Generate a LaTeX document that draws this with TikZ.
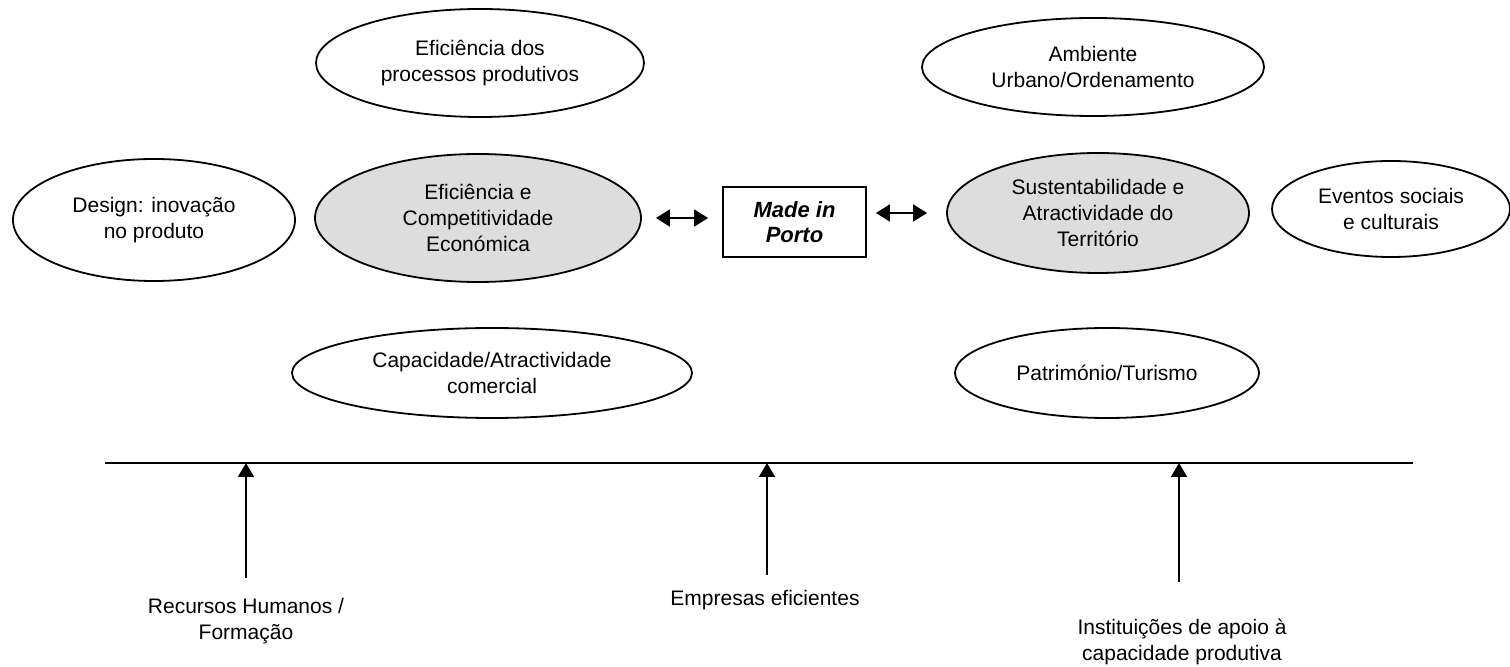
\documentclass[tikz,border=0pt]{standalone}
\usepackage{fontspec}
\setmainfont{Liberation Sans}
\usetikzlibrary{shapes.geometric,arrows.meta,calc}
\definecolor{corefill}{RGB}{221,221,221}
\begin{document}
\begin{tikzpicture}[x=0.5pt,y=-0.5pt,
  every node/.style={font=\fontsize{10.5pt}{13pt}\selectfont, align=center, inner sep=0pt},
  oval/.style={ellipse, draw, line width=0.9pt, fill=white},
  core/.style={oval, fill=corefill},
  brand/.style={draw, line width=0.9pt, minimum width=71.5pt, minimum height=35pt,
    font=\fontsize{11pt}{12.5pt}\selectfont\bfseries\itshape},
  link/.style={line width=0.9pt, {Triangle[length=7pt,width=8.5pt]}-{Triangle[length=7pt,width=8.5pt]}},
  base/.style={line width=0.9pt},
  support/.style={line width=0.9pt, -{Triangle[length=7pt,width=8pt]}}
]
\useasboundingbox (0,0) rectangle (1510,667);

% economic side
\node[oval, minimum width=164pt, minimum height=54pt] (proc) at (480,63) {Eficiência dos\\processos produtivos};
\node[oval, minimum width=141pt, minimum height=61pt] (design) at (154,220) {Design: inovação\\no produto};
\node[core, minimum width=163pt, minimum height=64pt] (ef) at (478,218) {Eficiência e\\Competitividade\\Económica};
\node[oval, minimum width=200pt, minimum height=45pt] (cap) at (492,373) {Capacidade/Atractividade\\comercial};

% territorial side
\node[oval, minimum width=171pt, minimum height=49pt] (amb) at (1093,67) {Ambiente\\Urbano/Ordenamento};
\node[core, minimum width=151pt, minimum height=60pt] (sust) at (1098,213) {Sustentabilidade e\\Atractividade do\\Território};
\node[oval, minimum width=119pt, minimum height=48pt] (evt) at (1391,209) {Eventos sociais\\e culturais};
\node[oval, minimum width=152pt, minimum height=45pt] (pat) at (1107,373) {Património/Turismo};

% centre
\node[brand] (mip) at (794.5,222) {Made in\\Porto};
\draw[link] ($(ef.east)+(7pt,0)$) -- ($(ef.east -| mip.west)+(-7pt,0)$);
\draw[link] ($(sust.west -| mip.east)+(4.5pt,0)$) -- ($(sust.west)+(-9.5pt,0)$);

% base line and its supports
\coordinate (baseL) at (105,463);
\coordinate (baseR) at (1413,463);
\draw[base] (baseL) -- (baseR);

\node (rh) at (246,621) {Recursos Humanos /\\Formação};
\node (emp) at (765,600) {Empresas eficientes};
\node (inst) at (1182,642) {Instituições de apoio à\\capacidade produtiva};

\coordinate (rhTail) at (246,578);
\coordinate (empTail) at (767,575);
\coordinate (instTail) at (1179,582);
\draw[support] (rhTail) -- (rhTail |- baseL);
\draw[support] (empTail) -- (empTail |- baseL);
\draw[support] (instTail) -- (instTail |- baseL);
\end{tikzpicture}
\end{document}
